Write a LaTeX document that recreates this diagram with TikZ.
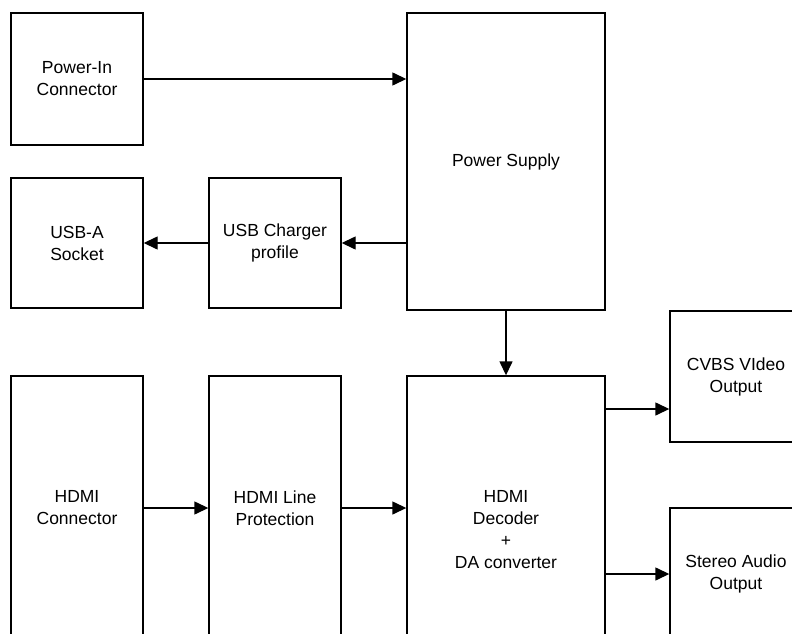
\documentclass[tikz,border=0pt]{standalone}
\usepackage{fontspec}
\setmainfont{Liberation Sans}
\usetikzlibrary{arrows.meta}
\begin{document}
\begin{tikzpicture}[x=1pt,y=-1pt,
  blk/.style={draw, line width=1.4pt, align=center, inner sep=0pt,
    font=\fontsize{17.5}{22}\selectfont},
  conn/.style={line width=1.4pt, -{Triangle[length=14pt,width=13pt]}}]
\clip (0,0) rectangle (792,634);
\node[blk, minimum width=132pt, minimum height=132pt] (pin) at (77,79) {Power-In\\Connector};
\node[blk, minimum width=198pt, minimum height=297pt] (ps) at (506,161.5) {Power Supply};
\node[blk, minimum width=132pt, minimum height=130pt] (usba) at (77,243) {USB-A\\Socket};
\node[blk, minimum width=132pt, minimum height=130pt] (usbc) at (275,243) {USB Charger\\profile};
\node[blk, minimum width=132pt, minimum height=264pt] (hc) at (77,508) {HDMI\\Connector};
\node[blk, minimum width=132pt, minimum height=264pt] (hlp) at (275,508) {HDMI Line\\Protection};
\node[blk, minimum width=198pt, minimum height=308pt] (dec) at (506,530) {HDMI\\Decoder\\+\\DA converter};
\node[blk, minimum width=132pt, minimum height=131pt] (cvbs) at (736,376.5) {CVBS VIdeo\\Output};
\node[blk, minimum width=132pt, minimum height=132pt] (sao) at (736,574) {Stereo Audio\\Output};
\coordinate (cvy) at (0,409);
\draw[conn] (pin.east) -- (pin.east -| ps.west);
\draw[conn] (ps.west |- usbc.east) -- (usbc.east);
\draw[conn] (usbc.west) -- (usba.east);
\draw[conn] (ps.south) -- (dec.north);
\draw[conn] (hc.east) -- (hlp.west);
\draw[conn] (hlp.east) -- (hlp.east -| dec.west);
\draw[conn] (dec.east |- cvy) -- (cvbs.west |- cvy);
\draw[conn] (dec.east |- sao.west) -- (sao.west);
\end{tikzpicture}
\end{document}
